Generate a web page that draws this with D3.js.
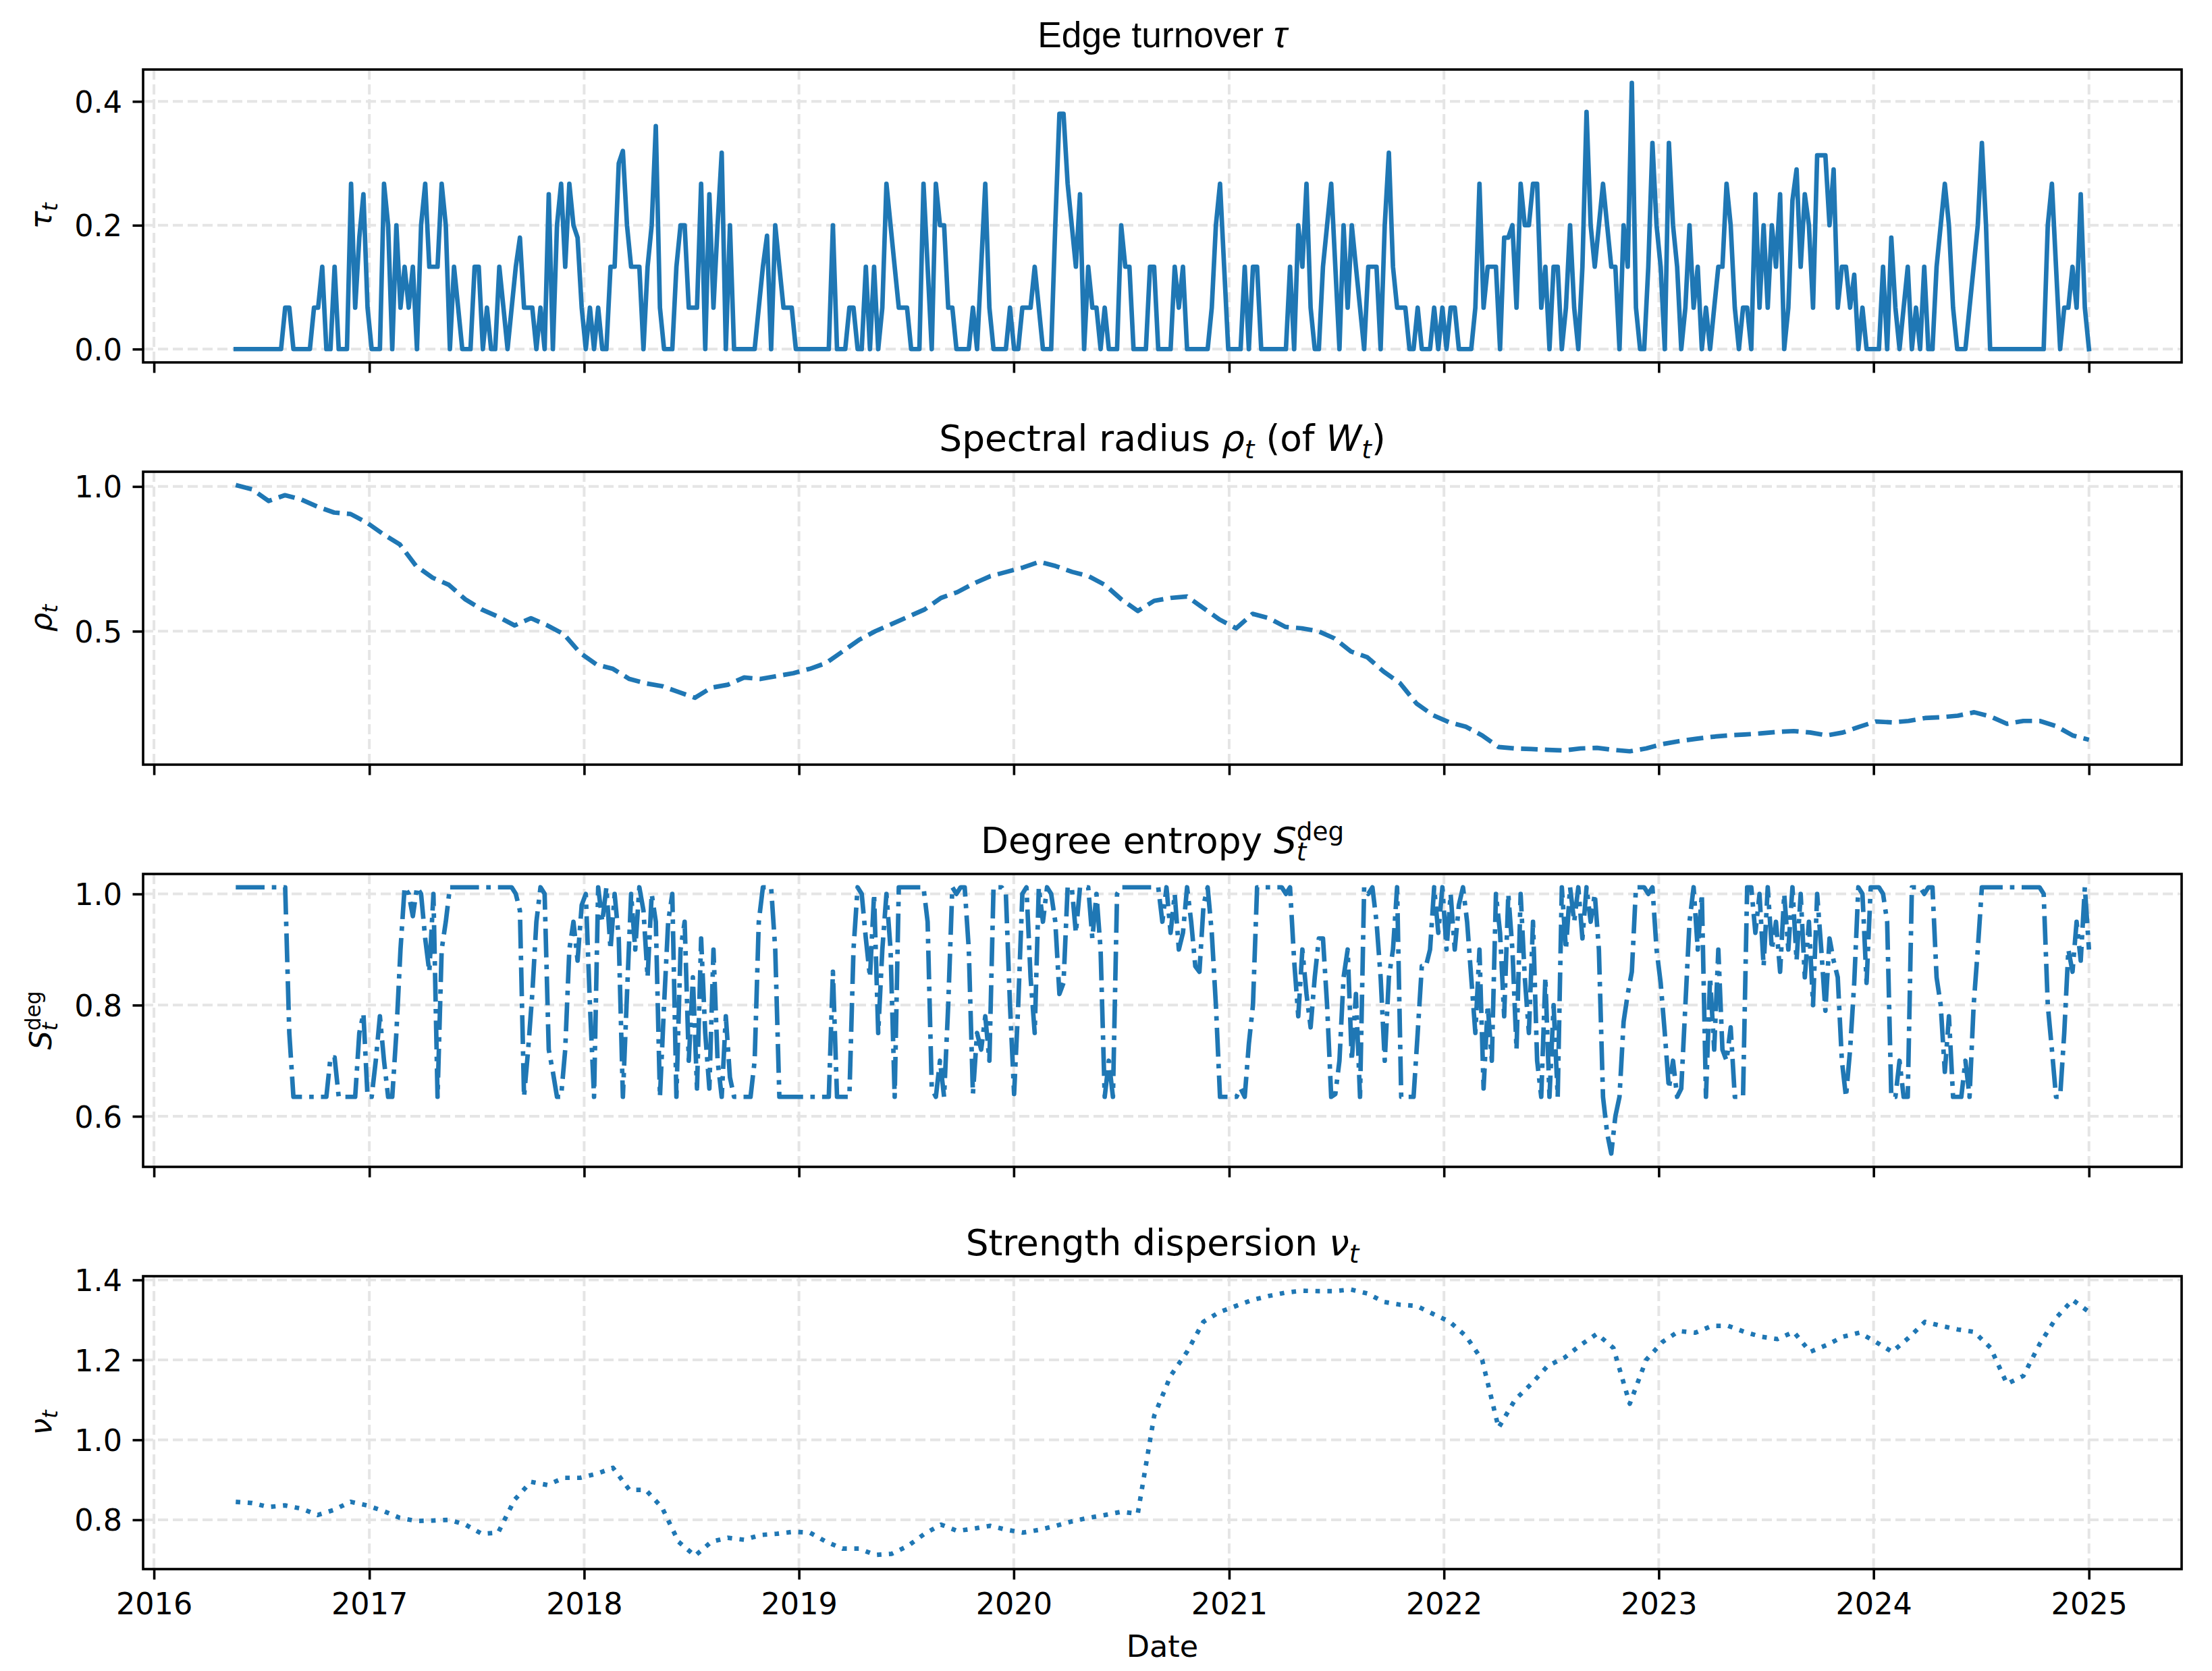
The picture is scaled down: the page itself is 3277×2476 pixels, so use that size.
<!DOCTYPE html>
<html><head><meta charset="utf-8">
<script src="https://cdn.jsdelivr.net/npm/d3@7"></script>
<style>body{margin:0;background:#fff} svg{display:block} text{white-space:pre}</style>
</head><body>
<svg id="chart" width="3277" height="2476"></svg>
<script>
// ---------------- data ----------------
const startDate = "2016-05-19";
const endDate = "2025-01-01";
const yearTicks = [2016, 2017, 2018, 2019, 2020, 2021, 2022, 2023, 2024, 2025];

// weekly edge turnover tau_t
const tauValues = [
/*0*/ 0,0,0,0,0,0,0,0,0,0,
/*10*/ 0,0,0.067,0.067,0,0,0,0,0,0.067,
/*20*/ 0.067,0.133,0,0,0.133,0,0,0,0.267,0.067,
/*30*/ 0.18,0.25,0.067,0,0,0,0.267,0.2,0,0.2,
/*40*/ 0.067,0.133,0.067,0.133,0,0.2,0.267,0.133,0.133,0.133,
/*50*/ 0.267,0.2,0,0.133,0.067,0,0,0,0.133,0.133,
/*60*/ 0,0.067,0,0,0.133,0.067,0,0.067,0.133,0.18,
/*70*/ 0.067,0.067,0.067,0,0.067,0,0.25,0,0.2,0.267,
/*80*/ 0.133,0.267,0.2,0.18,0.067,0,0.067,0,0.067,0,
/*90*/ 0,0.133,0.133,0.3,0.32,0.2,0.133,0.133,0.133,0,
/*100*/ 0.133,0.2,0.36,0.067,0,0,0,0.133,0.2,0.2,
/*110*/ 0.067,0.067,0.067,0.267,0,0.25,0.067,0.2,0.317,0,
/*120*/ 0.2,0,0,0,0,0,0,0.067,0.133,0.183,
/*130*/ 0,0.2,0.133,0.067,0.067,0.067,0,0,0,0,
/*140*/ 0,0,0,0,0,0.2,0,0,0,0.067,
/*150*/ 0.067,0,0,0.133,0,0.133,0,0.067,0.267,0.2,
/*160*/ 0.133,0.067,0.067,0.067,0,0,0,0.267,0.133,0,
/*170*/ 0.267,0.2,0.2,0.067,0.067,0,0,0,0,0.067,
/*180*/ 0,0.133,0.267,0.067,0,0,0,0,0.067,0,
/*190*/ 0,0.067,0.067,0.067,0.133,0.067,0,0,0,0.2,
/*200*/ 0.38,0.38,0.267,0.2,0.133,0.25,0,0.133,0.067,0.067,
/*210*/ 0,0.067,0,0,0,0.2,0.133,0.133,0,0,
/*220*/ 0,0,0.133,0.133,0,0,0,0,0.133,0.067,
/*230*/ 0.133,0,0,0,0,0,0,0.067,0.2,0.267,
/*240*/ 0.133,0,0,0,0,0.133,0,0.133,0.133,0,
/*250*/ 0,0,0,0,0,0,0.133,0,0.2,0.133,
/*260*/ 0.267,0.067,0,0,0.133,0.2,0.267,0.133,0,0.2,
/*270*/ 0.067,0.2,0.133,0.067,0,0.133,0.133,0.133,0,0.2,
/*280*/ 0.317,0.133,0.067,0.067,0.067,0,0,0.067,0,0,
/*290*/ 0,0.067,0,0.067,0,0.067,0.067,0,0,0,
/*300*/ 0,0.067,0.267,0.067,0.133,0.133,0.133,0,0.18,0.18,
/*310*/ 0.2,0.067,0.267,0.2,0.2,0.267,0.267,0.067,0.133,0,
/*320*/ 0.133,0.133,0,0.067,0.2,0.067,0,0.133,0.383,0.2,
/*330*/ 0.133,0.2,0.267,0.2,0.133,0.133,0,0.2,0.133,0.43,
/*340*/ 0.067,0,0,0.133,0.333,0.2,0.133,0,0.333,0.2,
/*350*/ 0.133,0,0.067,0.2,0.067,0.133,0,0.067,0,0.067,
/*360*/ 0.133,0.133,0.267,0.2,0.067,0,0.067,0.067,0,0.25,
/*370*/ 0.067,0.2,0.067,0.2,0.133,0.25,0,0.067,0.24,0.29,
/*380*/ 0.133,0.25,0.2,0.067,0.313,0.313,0.313,0.2,0.29,0.067,
/*390*/ 0.133,0.133,0.067,0.12,0,0.067,0,0,0,0,
/*400*/ 0.133,0,0.18,0.067,0,0.067,0.133,0,0.067,0,
/*410*/ 0.133,0,0,0.133,0.2,0.267,0.2,0.067,0,0,
/*420*/ 0,0.067,0.133,0.2,0.333,0.2,0,0,0,0,
/*430*/ 0,0,0,0,0,0,0,0,0,0,
/*440*/ 0.2,0.267,0.133,0,0.067,0.067,0.133,0.067,0.25,0.067,
/*450*/ 0
];

// four-weekly spectral radius rho_t
const rhoValues = [
/*0*/ 1.005,0.99,0.95,0.97,0.955,0.93,0.91,0.905,0.875,0.835,
/*10*/ 0.8,0.725,0.685,0.66,0.61,0.575,0.55,0.52,0.545,0.52,
/*20*/ 0.49,0.425,0.385,0.37,0.335,0.32,0.31,0.29,0.27,0.305,
/*30*/ 0.315,0.34,0.335,0.345,0.355,0.37,0.39,0.43,0.47,0.5,
/*40*/ 0.525,0.55,0.575,0.615,0.635,0.665,0.69,0.705,0.72,0.74,
/*50*/ 0.725,0.705,0.69,0.66,0.61,0.57,0.605,0.615,0.62,0.58,
/*60*/ 0.54,0.51,0.56,0.545,0.515,0.51,0.5,0.475,0.43,0.41,
/*70*/ 0.36,0.32,0.25,0.21,0.185,0.17,0.14,0.1,0.095,0.093,
/*80*/ 0.09,0.088,0.095,0.097,0.09,0.085,0.095,0.11,0.12,0.128,
/*90*/ 0.135,0.14,0.143,0.147,0.152,0.155,0.15,0.14,0.15,0.17,
/*100*/ 0.188,0.185,0.19,0.2,0.203,0.208,0.22,0.205,0.18,0.19,
/*110*/ 0.19,0.172,0.14,0.125
];

// weekly degree entropy S_t^deg
const entropyValues = [
/*0*/ 1.012,1.012,1.012,1.012,1.012,1.012,1.012,1.012,1.012,1.012,
/*10*/ 1.012,1.012,1.012,0.75,0.635,0.635,0.635,0.635,0.635,0.635,
/*20*/ 0.635,0.635,0.635,0.706,0.706,0.635,0.635,0.635,0.635,0.635,
/*30*/ 0.75,0.785,0.635,0.635,0.7,0.78,0.7,0.635,0.635,0.75,
/*40*/ 0.9,1.012,1.0,0.96,1.012,1.0,0.92,0.86,1.0,0.635,
/*50*/ 0.9,0.95,1.012,1.012,1.012,1.012,1.012,1.012,1.012,1.012,
/*60*/ 1.012,1.012,1.012,1.012,1.012,1.012,1.012,1.012,1.0,0.97,
/*70*/ 0.635,0.72,0.82,0.95,1.012,1.0,0.72,0.68,0.635,0.635,
/*80*/ 0.72,0.9,0.95,0.88,0.98,1.0,0.8,0.635,1.012,0.95,
/*90*/ 1.012,0.9,1.0,0.92,0.635,0.82,1.0,0.9,1.012,0.97,
/*100*/ 0.85,1.0,0.95,0.635,0.8,0.95,1.0,0.635,0.9,0.95,
/*110*/ 0.7,0.85,0.65,0.92,0.75,0.65,0.9,0.7,0.635,0.78,
/*120*/ 0.67,0.635,0.635,0.635,0.635,0.635,0.7,0.95,1.012,1.012,
/*130*/ 1.012,0.9,0.635,0.635,0.635,0.635,0.635,0.635,0.635,0.635,
/*140*/ 0.635,0.635,0.635,0.635,0.635,0.86,0.635,0.635,0.635,0.635,
/*150*/ 0.9,1.012,1.0,0.92,0.85,1.0,0.75,0.9,1.0,0.9,
/*160*/ 0.635,1.012,1.012,1.012,1.012,1.012,1.012,1.012,0.95,0.65,
/*170*/ 0.635,0.7,0.635,0.8,1.012,1.0,1.012,1.012,0.9,0.64,
/*180*/ 0.75,0.72,0.78,0.7,1.012,1.012,1.012,1.0,0.8,0.64,
/*190*/ 0.8,1.0,1.012,0.85,0.75,1.012,0.95,1.012,1.0,0.95,
/*200*/ 0.82,0.84,1.012,1.012,0.93,1.012,1.012,1.012,0.92,1.0,
/*210*/ 0.9,0.635,0.7,0.635,1.0,1.012,1.012,1.012,1.012,1.012,
/*220*/ 1.012,1.012,1.012,1.012,1.012,0.95,1.012,0.93,1.0,0.9,
/*230*/ 0.93,1.012,0.95,0.87,0.86,0.98,1.012,0.93,0.8,0.635,
/*240*/ 0.635,0.635,0.635,0.635,0.65,0.635,0.73,0.8,1.012,1.012,
/*250*/ 1.012,1.012,1.012,1.012,1.012,1.0,1.012,0.88,0.78,0.9,
/*260*/ 0.82,0.76,0.85,0.92,0.92,0.8,0.635,0.64,0.7,0.85,
/*270*/ 0.9,0.7,0.82,0.635,1.012,1.0,1.012,0.95,0.85,0.7,
/*280*/ 0.85,0.9,1.012,0.635,0.635,0.635,0.635,0.75,0.87,0.87,
/*290*/ 0.9,1.012,0.93,1.012,0.9,1.0,0.9,0.98,1.012,0.95,
/*300*/ 0.85,0.75,0.9,0.65,0.8,0.7,1.0,0.93,0.78,1.0,
/*310*/ 0.9,0.72,1.0,0.85,0.75,0.95,0.7,0.635,0.85,0.635,
/*320*/ 0.8,0.635,1.012,0.9,1.012,0.95,1.012,0.92,1.012,0.95,
/*330*/ 1.0,0.9,0.635,0.57,0.533,0.6,0.635,0.77,0.82,0.86,
/*340*/ 1.012,1.012,1.012,1.0,1.012,0.9,0.84,0.75,0.65,0.7,
/*350*/ 0.635,0.65,0.8,0.95,1.012,0.9,1.0,0.635,0.85,0.72,
/*360*/ 0.9,0.72,0.7,0.76,0.635,0.635,0.635,1.012,1.012,0.93,
/*370*/ 1.0,0.87,1.012,0.9,0.95,0.86,1.0,0.9,1.012,0.88,
/*380*/ 1.0,0.85,0.95,0.8,1.0,0.9,0.79,0.92,0.88,0.85,
/*390*/ 0.7,0.635,0.72,0.84,1.012,1.0,0.84,1.012,1.012,1.012,
/*400*/ 1.0,0.95,0.635,0.635,0.7,0.635,0.635,1.012,1.012,1.012,
/*410*/ 1.0,1.012,1.012,0.85,0.8,0.68,0.78,0.635,0.635,0.635,
/*420*/ 0.7,0.635,0.8,0.9,1.012,1.012,1.012,1.012,1.012,1.012,
/*430*/ 1.012,1.012,1.012,1.012,1.012,1.012,1.012,1.012,1.012,1.0,
/*440*/ 0.8,0.72,0.635,0.635,0.75,0.9,0.86,0.95,0.88,1.012,
/*450*/ 0.9
];

// four-weekly strength dispersion nu_t
const nuValues = [
/*0*/ 0.845,0.842,0.832,0.836,0.828,0.812,0.825,0.845,0.836,0.822,
/*10*/ 0.805,0.797,0.798,0.8,0.788,0.765,0.768,0.85,0.895,0.887,
/*20*/ 0.905,0.905,0.915,0.93,0.875,0.875,0.83,0.745,0.71,0.745,
/*30*/ 0.755,0.75,0.762,0.765,0.77,0.768,0.745,0.728,0.728,0.712,
/*40*/ 0.715,0.735,0.765,0.788,0.772,0.778,0.785,0.775,0.768,0.775,
/*50*/ 0.785,0.796,0.805,0.812,0.82,0.815,1.06,1.16,1.22,1.295,
/*60*/ 1.32,1.335,1.35,1.36,1.368,1.373,1.372,1.372,1.376,1.366,
/*70*/ 1.345,1.338,1.335,1.315,1.296,1.26,1.2,1.03,1.1,1.14,
/*80*/ 1.185,1.205,1.237,1.265,1.23,1.09,1.2,1.245,1.272,1.268,
/*90*/ 1.285,1.285,1.27,1.258,1.252,1.27,1.22,1.237,1.258,1.268,
/*100*/ 1.245,1.22,1.255,1.295,1.285,1.276,1.27,1.23,1.14,1.16,
/*110*/ 1.24,1.305,1.35,1.32
];

const tauTicks = [0.0, 0.2, 0.4];
const rhoTicks = [0.5, 1.0];
const entropyTicks = [0.6, 0.8, 1.0];
const nuTicks = [0.8, 1.0, 1.2, 1.4];

// ---------------- layout / style ----------------
const svg = d3.select("#chart");
svg.append("rect").attr("width", 3277).attr("height", 2476).attr("fill", "#fff");
const plotLeft = 212, plotRight = 3232, panelH = 434;
const panelTops = [103, 699, 1295, 1891];
const lineColor = "#1f77b4";
const tickFont = 44.5, titleFont = 53.3;
const dejavu = "'DejaVu Sans', sans-serif";

const parse = d3.utcParse("%Y-%m-%d");
const t0 = parse(startDate), t1 = parse(endDate);
const span = t1 - t0;
const x = d3.scaleUtc()
  .domain([new Date(+t0 - 0.05 * span), new Date(+t1 + 0.05 * span)])
  .range([plotLeft, plotRight]);
const yearDates = yearTicks.map(y => new Date(Date.UTC(y, 0, 1)));
const datesFor = n => d3.range(n).map(i => new Date(+t0 + span * i / (n - 1)));

function addMath(textSel, parts, size) {
  let shift = 0, lastSub = null;
  parts.forEach(p => {
    const ts = textSel.append("tspan").text(p.t);
    if (p.it) ts.attr("font-style", "italic");
    let target = 0, fs = size;
    if (p.sub) { target = 0.2 * size; fs = 0.7 * size; }
    if (p.sup) { target = -0.36 * size; fs = 0.7 * size; }
    ts.attr("font-size", fs);
    if (target - shift !== 0) ts.attr("dy", target - shift);
    shift = target;
    if (p.sup && lastSub) ts.attr("dx", -lastSub.node().getComputedTextLength());
    lastSub = p.sub ? ts : null;
  });
}

const panels = [
  { values: tauValues, ticks: tauTicks, dash: null,
    title: [{t: "Edge turnover "}, {t: "τ", it: true}], titleFamily: "'Liberation Sans', Arial, sans-serif", titleShift: 33,
    ylabel: [{t: "τ", it: true}, {t: "t", it: true, sub: true}] },
  { values: rhoValues, ticks: rhoTicks, dash: "24.7,10.7",
    title: [{t: "Spectral radius "}, {t: "ρ", it: true}, {t: "t", it: true, sub: true}, {t: " (of "}, {t: "W", it: true}, {t: "t", it: true, sub: true}, {t: ")"}],
    titleFamily: dejavu, titleShift: 31,
    ylabel: [{t: "ρ", it: true}, {t: "t", it: true, sub: true}] },
  { values: entropyValues, ticks: entropyTicks, dash: "42.7,10.7,6.7,10.7",
    title: [{t: "Degree entropy "}, {t: "S", it: true}, {t: "t", it: true, sub: true}, {t: "deg", sup: true}],
    titleFamily: dejavu, titleShift: 31,
    ylabel: [{t: "S", it: true}, {t: "t", it: true, sub: true}, {t: "deg", sup: true}] },
  { values: nuValues, ticks: nuTicks, dash: "6.7,11",
    title: [{t: "Strength dispersion "}, {t: "ν", it: true}, {t: "t", it: true, sub: true}],
    titleFamily: dejavu, titleShift: 31,
    ylabel: [{t: "ν", it: true}, {t: "t", it: true, sub: true}] }
];

panels.forEach((p, idx) => {
  const top = panelTops[idx], bottom = top + panelH;
  const ext = d3.extent(p.values);
  const pad = (ext[1] - ext[0]) * 0.05;
  const y = d3.scaleLinear().domain([ext[0] - pad, ext[1] + pad]).range([bottom, top]);
  const g = svg.append("g");

  // grid
  const grid = g.append("g").attr("stroke", "#e5e5e5").attr("stroke-width", 4)
    .attr("stroke-dasharray", "15,7").attr("fill", "none");
  grid.selectAll("line.vx").data(yearDates).join("line")
    .attr("x1", d => x(d)).attr("x2", d => x(d)).attr("y1", top).attr("y2", bottom);
  grid.selectAll("line.hy").data(p.ticks).join("line")
    .attr("x1", plotLeft).attr("x2", plotRight).attr("y1", d => y(d)).attr("y2", d => y(d));

  // series
  const dates = datesFor(p.values.length);
  const line = d3.line().x((d, i) => x(dates[i])).y(d => y(d));
  g.append("path").datum(p.values)
    .attr("d", line).attr("fill", "none").attr("stroke", lineColor)
    .attr("stroke-width", 6.7).attr("stroke-linejoin", "round")
    .attr("stroke-linecap", p.dash ? "butt" : "square")
    .attr("stroke-dasharray", p.dash);

  // spines
  g.append("rect").attr("x", plotLeft).attr("y", top)
    .attr("width", plotRight - plotLeft).attr("height", panelH)
    .attr("fill", "none").attr("stroke", "#000").attr("stroke-width", 3.6);

  // y axis
  const ya = g.append("g").attr("transform", `translate(${plotLeft},0)`)
    .call(d3.axisLeft(y).tickValues(p.ticks).tickSize(15.5).tickPadding(15.5).tickFormat(d3.format(".1f")));
  ya.select(".domain").remove();
  ya.selectAll("line").attr("stroke-width", 3.6);
  ya.selectAll("text").attr("font-family", dejavu).attr("font-size", tickFont).attr("fill", "#000").attr("dy", "0.36em");

  // x axis
  const isLast = idx === panels.length - 1;
  const xa = g.append("g").attr("transform", `translate(0,${bottom})`)
    .call(d3.axisBottom(x).tickValues(yearDates).tickSize(15.5).tickPadding(15.5)
      .tickFormat(isLast ? d3.utcFormat("%Y") : () => ""));
  xa.select(".domain").remove();
  xa.selectAll("line").attr("stroke-width", 3.6);
  xa.selectAll("text").attr("font-family", dejavu).attr("font-size", tickFont).attr("fill", "#000").attr("dy", "0.81em");

  // title
  const tt = g.append("text").attr("x", (plotLeft + plotRight) / 2).attr("y", top - p.titleShift)
    .attr("text-anchor", "middle").attr("font-family", p.titleFamily).attr("font-size", titleFont).attr("fill", "#000");
  addMath(tt, p.title, titleFont);

  // y label
  const yl = g.append("text").attr("transform", `translate(76,${(top + bottom) / 2}) rotate(-90)`)
    .attr("text-anchor", "middle").attr("font-family", dejavu).attr("font-size", tickFont).attr("fill", "#000");
  addMath(yl, p.ylabel, tickFont);
});

svg.append("text").attr("x", (plotLeft + plotRight) / 2).attr("y", 2455)
  .attr("text-anchor", "middle").attr("font-family", dejavu).attr("font-size", tickFont)
  .attr("fill", "#000").text("Date");
</script>
</body></html>
